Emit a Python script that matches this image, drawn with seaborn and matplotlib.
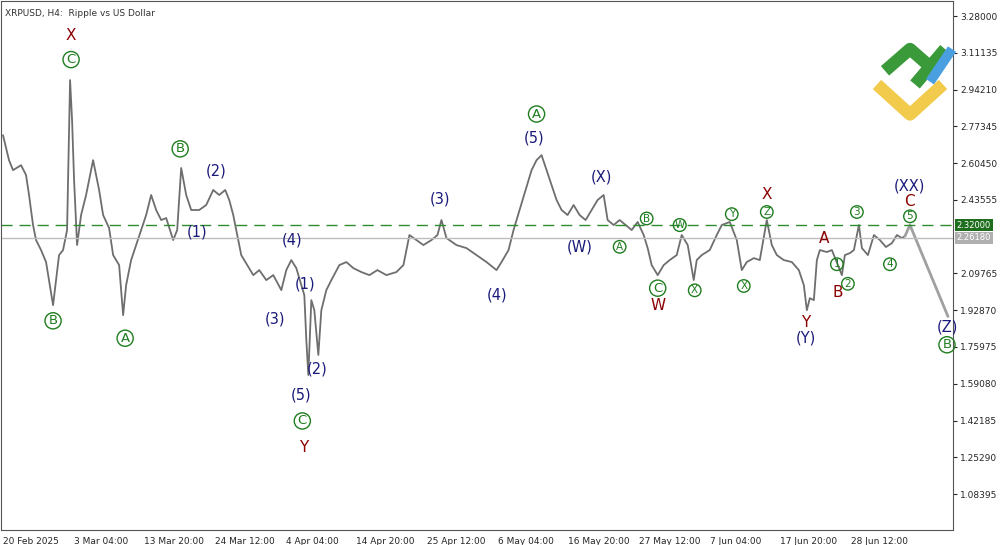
import numpy as np
import pandas as pd
import matplotlib
matplotlib.use("Agg")
import matplotlib.pyplot as plt
import seaborn as sns

# bar position (4h bars, ~1 unit per step) and price
bars = [2, 8, 12, 20, 25, 28, 32, 35, 40, 45, 52, 55, 58, 62, 66, 69, 71, 73, 76, 80,
        85, 92, 95, 98, 102, 108, 112, 118, 122, 125, 130, 135, 140, 145, 150, 155, 160, 165, 172, 176,
        180, 185, 190, 198, 205, 212, 218, 224, 228, 232, 236, 240, 246, 252, 258, 265, 272, 280, 285, 290,
        295, 300, 303, 305, 307, 310, 313, 317, 320, 325, 330, 338, 345, 352, 360, 368, 376, 385, 395, 402,
        408, 415, 422, 430, 436, 440, 445, 455, 465, 475, 485, 495, 500, 507, 512, 518, 524, 530, 535, 540,
        545, 550, 555, 560, 566, 572, 578, 584, 590, 596, 602, 606, 612, 618, 624, 630, 636, 642, 646, 650,
        656, 662, 668, 675, 680, 686, 692, 695, 700, 708, 715, 720, 728, 735, 740, 745, 752, 758, 765, 770,
        775, 782, 790, 797, 802, 805, 808, 812, 815, 818, 825, 830, 836, 840, 843, 848, 852, 857, 860, 866,
        872, 878, 884, 890, 895, 900, 903]
price = [2.733, 2.618, 2.572, 2.595, 2.550, 2.458, 2.320, 2.251, 2.205, 2.150, 1.952, 2.067, 2.182, 2.205, 2.297, 2.986, 2.802, 2.527, 2.228, 2.366,
         2.458, 2.618, 2.550, 2.481, 2.366, 2.306, 2.182, 2.136, 1.906, 2.044, 2.159, 2.228, 2.297, 2.366, 2.458, 2.389, 2.343, 2.352, 2.251, 2.297,
         2.582, 2.458, 2.389, 2.389, 2.412, 2.481, 2.458, 2.481, 2.435, 2.366, 2.274, 2.182, 2.136, 2.090, 2.113, 2.067, 2.090, 2.021, 2.113, 2.159,
         2.122, 2.044, 1.998, 1.792, 1.631, 1.975, 1.929, 1.723, 1.929, 2.021, 2.067, 2.136, 2.150, 2.122, 2.104, 2.090, 2.113, 2.090, 2.104, 2.136,
         2.274, 2.251, 2.228, 2.251, 2.274, 2.343, 2.260, 2.228, 2.214, 2.182, 2.150, 2.113, 2.150, 2.205, 2.297, 2.389, 2.481, 2.572, 2.618, 2.641,
         2.572, 2.504, 2.435, 2.389, 2.366, 2.412, 2.366, 2.343, 2.389, 2.435, 2.458, 2.343, 2.320, 2.343, 2.320, 2.297, 2.334, 2.274, 2.214, 2.136,
         2.090, 2.136, 2.159, 2.182, 2.274, 2.228, 2.067, 2.159, 2.182, 2.205, 2.274, 2.320, 2.334, 2.251, 2.113, 2.150, 2.168, 2.159, 2.343, 2.228,
         2.182, 2.159, 2.150, 2.113, 2.044, 1.929, 1.984, 1.975, 2.159, 2.205, 2.196, 2.205, 2.136, 2.090, 2.182, 2.191, 2.205, 2.320, 2.214, 2.182,
         2.274, 2.251, 2.219, 2.237, 2.274, 2.260, 2.269]
fc_bars = [903, 908, 946]
fc_price = [2.269, 2.320, 1.900]

ytick_vals = [3.28, 3.11135, 2.9421, 2.77345, 2.6045, 2.43555, 2.09765, 1.9287, 1.75975, 1.5908, 1.42185, 1.2529, 1.08395]
xtick_pos = [2 + 70.6 * k for k in range(13)]
xtick_lab = ["20 Feb 2025", "3 Mar 04:00", "13 Mar 20:00", "24 Mar 12:00", "4 Apr 04:00", "14 Apr 20:00",
             "25 Apr 12:00", "6 May 04:00", "16 May 20:00", "27 May 12:00", "7 Jun 04:00", "17 Jun 20:00", "28 Jun 12:00"]

RED, NAVY, GREEN = "#8b0000", "#1a1a7a", "#1e7d1e"
# wave labels: bar, price, text, style
labels = [
    (70, 3.19, "X", "r"), (70, 3.08, "C", "c"),
    (52, 1.88, "B", "c"), (124, 1.80, "A", "c"),
    (179, 2.67, "B", "c"), (215, 2.57, "(2)", "n"), (196, 2.29, "(1)", "n"),
    (291, 2.25, "(4)", "n"), (304, 2.05, "(1)", "n"), (274, 1.89, "(3)", "n"), (316, 1.66, "(2)", "n"),
    (300, 1.54, "(5)", "n"), (301, 1.42, "C", "c"), (302, 1.30, "Y", "r"),
    (439, 2.44, "(3)", "n"), (496, 2.00, "(4)", "n"),
    (535, 2.83, "A", "c"), (533, 2.72, "(5)", "n"),
    (600, 2.54, "(X)", "n"), (578, 2.22, "(W)", "n"), (618, 2.22, "A", "cs"), (645, 2.35, "B", "cs"),
    (656, 2.03, "C", "c"), (656, 1.95, "W", "r"),
    (678, 2.32, "W", "cs"), (693, 2.02, "X", "cs"), (730, 2.37, "Y", "cs"), (742, 2.04, "X", "cs"),
    (765, 2.38, "Z", "cs"), (765, 2.46, "X", "r"),
    (804, 1.87, "Y", "r"), (804, 1.80, "(Y)", "n"), (822, 2.26, "A", "r"), (836, 2.01, "B", "r"),
    (835, 2.14, "1", "cs"), (846, 2.05, "2", "cs"), (855, 2.38, "3", "cs"), (888, 2.14, "4", "cs"),
    (908, 2.36, "5", "cs"), (907, 2.43, "C", "r"), (907, 2.50, "(XX)", "n"),
    (945, 1.85, "(Z)", "n"), (945, 1.77, "B", "c"),
]

sns.set_style("white")
plt.rcParams["font.family"] = ["DejaVu Sans"]
fig = plt.figure(figsize=(10, 5.45), dpi=100)
ax = fig.add_axes([0.001, 0.0275, 0.952, 0.9706])

df = pd.DataFrame({"bar": bars, "price": price})
sns.lineplot(data=df, x="bar", y="price", ax=ax, color="#6e6e6e", lw=1.3)
ax.plot(fc_bars, fc_price, color="#a0a0a0", lw=2)
ax.axhline(2.32, color="#2e8b2e", ls=(0, (8, 5)), lw=1)
ax.axhline(2.2618, color="#bdbdbd", lw=1)

for b, p, t, s in labels:
    if s == "r":
        ax.text(b, p, t, color=RED, fontsize=11, ha="center", va="center")
    elif s == "n":
        ax.text(b, p, t, color=NAVY, fontsize=10.5, ha="center", va="center")
    else:
        fs = 9.5 if s == "c" else 7.5
        ax.text(b, p, t, color=GREEN, fontsize=fs, ha="center", va="center",
                bbox=dict(boxstyle="circle,pad=0.12", fc="none", ec=GREEN, lw=1))

ax.set_xlim(0, 951)
ax.set_ylim(0.919, 3.349)
ax.yaxis.tick_right()
ax.set_yticks(ytick_vals)
ax.set_yticklabels([f"{v:.5f}" for v in ytick_vals], fontsize=6.5)
ax.set_xticks(xtick_pos)
ax.set_xticklabels(xtick_lab, fontsize=6.5, ha="left")
ax.tick_params(length=3, pad=2)
ax.set_xlabel("")
ax.set_ylabel("")
for sp in ax.spines.values():
    sp.set_color("#555555")
    sp.set_linewidth(0.8)

ax.text(1.004, 2.32, "2.32000", transform=ax.get_yaxis_transform(), fontsize=6, color="white",
        va="center", bbox=dict(boxstyle="square,pad=0.2", fc="#1e6e1e", ec="none"))
ax.text(1.004, 2.2618, "2.26180", transform=ax.get_yaxis_transform(), fontsize=6, color="white",
        va="center", bbox=dict(boxstyle="square,pad=0.2", fc="#b0b0b0", ec="none"))
ax.text(0.004, 0.985, "XRPUSD, H4:  Ripple vs US Dollar", transform=ax.transAxes, fontsize=6.5,
        color="#333333", va="top")

# logo
fig.add_artist(plt.Line2D([0.885, 0.91, 0.935], [0.87, 0.91, 0.87], color="#3a9a3a", lw=9,
                          solid_capstyle="butt"))
fig.add_artist(plt.Line2D([0.915, 0.945], [0.845, 0.91], color="#3a9a3a", lw=9, solid_capstyle="butt"))
fig.add_artist(plt.Line2D([0.93, 0.952], [0.85, 0.91], color="#4a9fe0", lw=7, solid_capstyle="butt"))
fig.add_artist(plt.Line2D([0.877, 0.91, 0.943], [0.845, 0.79, 0.845], color="#f2cb4c", lw=9,
                          solid_capstyle="butt"))

fig.savefig("out.png", dpi=100)
